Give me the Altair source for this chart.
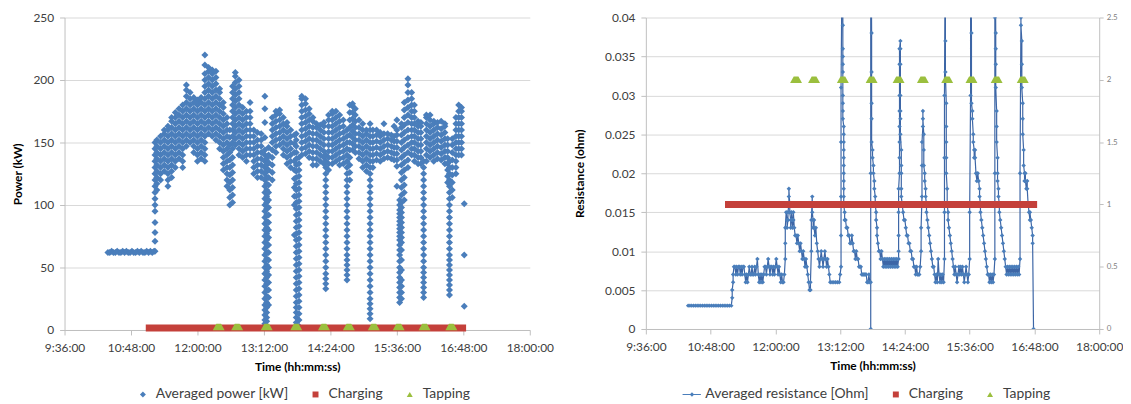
import altair as alt
import pandas as pd

BLUE = "#4a7ebb"
LINE_BLUE = "#3d66a6"
RED = "#c4403a"
GREEN = "#9bbf3e"
GRID = "#d9d9d9"
AXIS = "#bfbfbf"
TEXT = "#404040"

POWER = "Averaged power [kW]"
RESIST = "Averaged resistance [Ohm]"
CHARGING = "Charging"
TAPPING = "Tapping"

tick_hours = [9.6, 10.8, 12.0, 13.2, 14.4, 15.6, 16.8, 18.0]
power_ticks = [0, 50, 100, 150, 200, 250]
resist_ticks = [0, 0.005, 0.01, 0.015, 0.02, 0.025, 0.03, 0.035, 0.04]
flag_ticks = [0, 0.5, 1, 1.5, 2, 2.5]

charging_span = ("11:04", "16:51")
tapping_times = ["12:23", "12:43", "13:15", "13:47", "14:17", "14:44", "15:11", "15:38", "16:06", "16:35"]

# ---- power (kW): flat period before charging
flat_times = ["10:23", "10:25", "10:27", "10:29", "10:31", "10:33", "10:35", "10:37", "10:39",
              "10:41", "10:43", "10:45", "10:47", "10:49", "10:51", "10:53", "10:55", "10:57",
              "10:59", "11:01", "11:03", "11:05", "11:07", "11:09", "11:11", "11:13"]
flat_power = [62, 62, 63, 62, 62, 63, 62, 62, 63, 62, 63, 62, 62, 63, 62, 62, 63, 62, 63, 62,
              62, 63, 62, 63, 62, 63]

# ---- power (kW): readings grouped by clock minute
power_am = [
    ("11:14", [63, 71, 78, 86, 95, 100, 105, 110, 115, 120, 125, 130, 135, 140, 145, 150]),
    ("11:16", [112, 117, 122, 127, 132, 137, 142, 147, 152]),
    ("11:20", [120, 125, 130, 135, 140, 145, 150, 155]),
    ("11:24", [127, 132, 137, 142, 147, 152, 157, 160]),
    ("11:28", [115, 120, 125, 130, 135, 140, 145, 150, 155, 160, 163]),
    ("11:32", [122, 127, 132, 137, 142, 147, 152, 157, 162, 167, 170]),
    ("11:36", [130, 135, 140, 145, 150, 155, 160, 165, 170, 174]),
    ("11:40", [137, 142, 147, 152, 157, 162, 167, 172, 177]),
    ("11:44", [130, 135, 140, 145, 150, 155, 160, 165, 170, 175, 180]),
    ("11:48", [147, 152, 157, 162, 167, 172, 177, 182, 187, 192, 196]),
    ("11:52", [150, 155, 160, 165, 170, 175, 180, 185, 190]),
    ("11:56", [142, 147, 152, 157, 162, 167, 172, 177, 182, 186]),
    ("12:00", [135, 140, 145, 150, 155, 160, 165, 170, 175, 180, 184]),
    ("12:04", [137, 142, 147, 152, 157, 162, 167, 172, 177, 182, 186]),
    ("12:08", [135, 140, 145, 150, 155, 160, 165, 170, 175, 180, 185, 190, 195, 200, 205, 212, 220]),
    ("12:12", [157, 162, 167, 172, 177, 182, 187, 192, 197, 202, 207, 210]),
    ("12:16", [155, 160, 165, 170, 175, 180, 185, 190, 195, 200, 205, 208]),
    ("12:20", [152, 157, 162, 167, 172, 177, 182, 187, 192, 197, 202, 207]),
    ("12:24", [145, 150, 155, 160, 165, 170, 175, 180, 185, 190, 193]),
    ("12:28", [128, 133, 138, 143, 148, 153, 158, 163, 168, 173, 178, 182]),
    ("12:32", [115, 120, 125, 130, 135, 140, 145, 150, 155, 160, 165, 170]),
    ("12:35", [100, 106, 112, 118, 124, 130, 136, 142, 148, 154, 160]),
    ("12:38", [102, 108, 114, 120, 126, 132, 138, 145, 150, 155, 160, 165, 170, 175, 180, 185, 190, 195]),
    ("12:41", [148, 153, 158, 163, 168, 173, 178, 183, 188, 193, 198, 203, 206]),
    ("12:45", [140, 145, 150, 155, 160, 165, 170, 175, 180, 185, 190, 195, 200]),
    ("12:49", [138, 143, 148, 153, 158, 163, 168, 173, 178]),
    ("12:53", [135, 140, 145, 150, 155, 160, 165, 170, 175]),
    ("12:57", [140, 145, 150, 155, 160, 165, 170, 175, 182]),
]
power_midday = [
    ("13:01", [125, 130, 135, 140, 145, 150, 155, 160]),
    ("13:05", [122, 127, 132, 137, 142, 147, 152, 158]),
    ("13:09", [122, 127, 132, 137, 142, 147, 152, 157]),
    ("13:13", [5, 8, 12, 16, 20, 25, 30, 35, 40, 45, 50, 55, 60, 65, 70, 75, 80, 85, 90, 95, 100,
               105, 110, 115, 120, 125, 130, 135, 140, 144, 154, 166, 177, 187]),
    ("13:15", [3, 7, 10, 14, 18, 22, 27, 32, 37, 42, 47, 52, 57, 62, 67, 72, 77, 82, 87, 92, 97,
               102, 107, 112, 117, 122, 127, 132, 137]),
    ("13:17", [20, 26, 32, 38, 44, 50, 56, 62, 68, 74, 80, 86, 92, 98, 104, 110, 116, 122, 128, 134, 140, 146]),
    ("13:21", [120, 126, 132, 138, 144, 150, 155, 160, 165, 170]),
    ("13:25", [142, 147, 152, 157, 162, 167, 172, 175]),
    ("13:29", [148, 153, 158, 163, 168, 173, 176]),
    ("13:33", [140, 145, 150, 155, 160, 165, 170]),
    ("13:37", [133, 138, 143, 148, 153, 158, 163, 166]),
    ("13:41", [130, 135, 140, 145, 150, 155, 160]),
    ("13:45", [76, 100, 107, 114, 121, 128, 135, 142, 149, 156]),
    ("13:47", [2, 6, 10, 14, 18, 22, 27, 32, 37, 42, 47, 52, 57, 62, 67, 72, 77, 82, 87, 92, 97,
               102, 107, 112, 117, 122, 127, 132, 137, 142, 147, 152, 157]),
    ("13:50", [3, 8, 13, 18, 23, 28, 33, 38, 43, 48, 53, 58, 63, 68, 73, 78, 83, 88, 93, 98, 103,
               108, 113, 118, 123, 128, 133, 138]),
    ("13:53", [140, 145, 150, 155, 160, 165, 170, 175, 180, 185, 187]),
    ("13:57", [141, 146, 151, 156, 161, 166, 171, 176, 181, 185]),
    ("14:01", [138, 143, 148, 153, 158, 163, 168, 173, 177]),
    ("14:05", [132, 137, 142, 147, 152, 157, 162, 167, 170]),
    ("14:09", [132, 137, 142, 147, 152, 157, 162, 165]),
    ("14:13", [135, 140, 145, 150, 155, 160, 164]),
    ("14:17", [133, 138, 143, 148, 153, 158, 163, 166]),
    ("14:19", [33, 37, 41, 45, 50, 55, 60, 65, 70, 75, 80, 85, 90, 95, 100, 105, 110, 115, 120, 125, 130, 135, 140]),
    ("14:22", [128, 133, 138, 143, 148, 153, 158, 163, 168, 172]),
    ("14:26", [133, 138, 143, 148, 153, 158, 163, 168, 173, 175]),
    ("14:30", [135, 140, 145, 150, 155, 160, 165, 170, 175]),
    ("14:34", [132, 137, 142, 147, 152, 157, 162, 167, 172]),
    ("14:38", [133, 138, 143, 148, 153, 158, 163, 168]),
    ("14:42", [40, 44, 48, 52, 56, 60, 65, 70, 75, 80, 85, 90, 95, 100, 105, 110, 115, 120, 125,
               130, 135, 140, 145, 150, 155, 160]),
    ("14:45", [120, 126, 132, 138, 144, 150, 156, 162, 168, 174, 180]),
    ("14:48", [144, 149, 154, 159, 164, 169, 174, 179, 181]),
    ("14:51", [142, 147, 152, 157, 162, 167, 172, 177]),
    ("14:55", [137, 142, 147, 152, 157, 162, 168]),
    ("14:59", [130, 135, 140, 145, 150, 155, 160, 165]),
]
power_pm = [
    ("15:03", [127, 132, 137, 142, 147, 152, 157, 160]),
    ("15:07", [9, 13, 17, 21, 25, 30, 35, 40, 45, 50, 55, 60, 65, 70, 75, 80, 85, 90, 95, 100, 105,
               110, 115, 120, 125, 130, 135, 140, 145, 150, 155, 160, 165]),
    ("15:10", [130, 135, 140, 145, 150, 155, 160]),
    ("15:14", [136, 141, 146, 151, 156, 160]),
    ("15:18", [135, 140, 145, 150, 155, 158]),
    ("15:22", [137, 142, 147, 152, 157, 165]),
    ("15:26", [138, 143, 148, 153, 157]),
    ("15:30", [137, 142, 147, 152, 156]),
    ("15:33", [136, 141, 146, 151, 155, 163]),
    ("15:36", [115, 131, 136, 141, 146, 151, 156, 160, 168]),
    ("15:39", [22, 26, 30, 34, 38, 42, 46, 50, 55, 60, 64, 68, 72, 75, 78, 81, 84, 87, 90, 93, 96, 100, 104]),
    ("15:41", [25, 30, 35, 40, 48, 56, 64, 70, 74, 78, 82, 86, 90, 94, 98, 102, 108, 114, 120, 126,
               132, 138, 144, 150, 156, 162, 165]),
    ("15:44", [104, 110, 116, 122, 128, 134, 140, 146, 152, 158, 164, 170, 176, 182]),
    ("15:48", [130, 136, 142, 148, 154, 160, 166, 172, 178, 184, 190, 196, 201]),
    ("15:52", [140, 145, 150, 155, 160, 165, 170, 175, 180, 185, 190]),
    ("15:55", [135, 140, 145, 150, 155, 160, 165, 170, 175, 180]),
    ("15:59", [133, 138, 143, 148, 153, 158, 163, 167]),
    ("16:02", [133, 138, 143, 148, 153, 158, 163, 166]),
    ("16:05", [26, 30, 34, 38, 42, 46, 50, 55, 60, 65, 70, 75, 80, 85, 90, 95, 100, 105, 110, 115,
               120, 125, 130, 135]),
    ("16:08", [135, 140, 145, 150, 155, 160, 165, 170, 172]),
    ("16:12", [138, 143, 148, 153, 158, 163, 168, 172]),
    ("16:16", [135, 140, 145, 150, 155, 160, 165, 167]),
    ("16:20", [137, 142, 147, 152, 157, 162, 166]),
    ("16:24", [136, 141, 146, 151, 156, 161, 167]),
    ("16:28", [133, 138, 143, 148, 153, 158, 163, 165]),
    ("16:31", [118, 123, 128, 133, 138, 143, 148, 153]),
    ("16:33", [28, 32, 36, 40, 44, 48, 52, 56, 60, 65, 70, 75, 80, 85, 90, 95, 100, 105, 110, 115,
               120, 125, 130, 135]),
    ("16:36", [106, 112, 118, 124, 130, 136, 142, 148, 153]),
    ("16:40", [125, 130, 135, 140, 145, 150, 155, 160, 165, 170]),
    ("16:43", [140, 145, 150, 155, 160, 165, 170, 175, 180]),
    ("16:46", [140, 145, 150, 155, 160, 165, 170, 175, 178]),
    ("16:49", [19, 60, 101]),
]

# ---- resistance (milliohm), in time order
res_flat = [("10:23", 3), ("10:25", 3), ("10:27", 3), ("10:29", 3), ("10:31", 3), ("10:33", 3),
            ("10:35", 3), ("10:37", 3), ("10:39", 3), ("10:41", 3), ("10:43", 3), ("10:45", 3),
            ("10:47", 3), ("10:49", 3), ("10:51", 3), ("10:53", 3), ("10:55", 3), ("10:57", 3),
            ("10:59", 3), ("11:01", 3), ("11:03", 3), ("11:05", 3), ("11:07", 3), ("11:09", 3),
            ("11:11", 3), ("11:12", 4), ("11:12", 5), ("11:13", 6), ("11:13", 7), ("11:14", 8)]
res_morning = [("11:15", 8), ("11:16", 7), ("11:17", 8), ("11:18", 7), ("11:19", 8), ("11:20", 8),
               ("11:21", 7), ("11:22", 8), ("11:23", 7), ("11:24", 8), ("11:25", 8), ("11:26", 7),
               ("11:27", 6), ("11:28", 7), ("11:29", 6), ("11:30", 7), ("11:31", 8), ("11:32", 7),
               ("11:33", 7), ("11:34", 8), ("11:35", 7), ("11:36", 7), ("11:37", 8), ("11:38", 7),
               ("11:39", 8), ("11:40", 9), ("11:41", 7), ("11:42", 6), ("11:43", 7), ("11:44", 6),
               ("11:45", 7), ("11:46", 6), ("11:47", 7), ("11:48", 8), ("11:49", 8), ("11:50", 7),
               ("11:51", 8), ("11:52", 9), ("11:53", 8), ("11:54", 7), ("11:55", 8), ("11:56", 8),
               ("11:57", 7), ("11:58", 8), ("11:59", 7), ("12:00", 8), ("12:01", 9), ("12:02", 8),
               ("12:03", 7), ("12:04", 8), ("12:05", 7), ("12:06", 6), ("12:07", 7), ("12:08", 6),
               ("12:09", 6), ("12:10", 7)]
res_noon = [("12:11", 9), ("12:11", 11), ("12:11", 13), ("12:12", 15), ("12:13", 14), ("12:13", 13),
            ("12:14", 14), ("12:14", 15), ("12:15", 16), ("12:15", 17), ("12:15", 18), ("12:16", 16),
            ("12:16", 15), ("12:17", 14), ("12:17", 13), ("12:18", 14), ("12:18", 15), ("12:19", 14),
            ("12:19", 13), ("12:20", 14), ("12:20", 15), ("12:21", 13), ("12:22", 12), ("12:23", 12),
            ("12:24", 11), ("12:25", 12), ("12:26", 11), ("12:27", 10), ("12:28", 11), ("12:29", 10),
            ("12:30", 9), ("12:31", 10), ("12:32", 9), ("12:33", 8), ("12:34", 9), ("12:35", 8),
            ("12:36", 7), ("12:37", 6), ("12:38", 5), ("12:39", 5), ("12:39", 6), ("12:40", 10),
            ("12:40", 14), ("12:41", 17), ("12:41", 15), ("12:42", 14), ("12:42", 13), ("12:43", 14),
            ("12:43", 13), ("12:44", 12), ("12:45", 13), ("12:46", 11), ("12:47", 10), ("12:48", 9),
            ("12:49", 8), ("12:50", 9), ("12:51", 10), ("12:52", 9), ("12:53", 8), ("12:54", 9),
            ("12:55", 10), ("12:56", 9), ("12:57", 8), ("12:58", 9), ("12:59", 8), ("13:00", 7),
            ("13:01", 6), ("13:03", 6), ("13:05", 6), ("13:07", 6), ("13:09", 6), ("13:11", 6),
            ("13:12", 7)]
res_early_pm = [("13:13", 8), ("13:13", 12), ("13:13", 17), ("13:13", 24), ("13:13", 31), ("13:14", 45),
                ("13:14", 60), ("13:15", 48), ("13:15", 39), ("13:15", 36), ("13:15", 35), ("13:15", 34),
                ("13:15", 33), ("13:15", 30), ("13:15", 29), ("13:15", 28), ("13:15", 27), ("13:16", 26),
                ("13:16", 25), ("13:16", 24), ("13:16", 23), ("13:16", 22), ("13:16", 21), ("13:16", 20),
                ("13:16", 19), ("13:16", 18), ("13:16", 17), ("13:16", 16), ("13:17", 15), ("13:17", 14),
                ("13:18", 14), ("13:19", 13), ("13:20", 13), ("13:21", 12), ("13:22", 12), ("13:23", 11),
                ("13:24", 11), ("13:25", 12), ("13:26", 11), ("13:27", 10), ("13:28", 10), ("13:29", 9),
                ("13:30", 10), ("13:31", 9), ("13:32", 9), ("13:33", 8), ("13:34", 8), ("13:35", 8),
                ("13:36", 7), ("13:37", 7), ("13:38", 7), ("13:39", 7), ("13:40", 7), ("13:41", 7),
                ("13:42", 6), ("13:43", 6), ("13:44", 7), ("13:45", 6),
                ("13:46", 6), ("13:46", 20), ("13:46", 45), ("13:46", 60), ("13:46", 0), ("13:46", 60),
                ("13:47", 38), ("13:47", 33), ("13:47", 29), ("13:47", 27), ("13:47", 24), ("13:48", 23),
                ("13:48", 22), ("13:49", 21), ("13:49", 20), ("13:50", 19), ("13:50", 18), ("13:51", 17),
                ("13:51", 16), ("13:52", 15), ("13:52", 14), ("13:53", 13), ("13:53", 12), ("13:54", 11),
                ("13:55", 10), ("13:56", 10), ("13:57", 9), ("13:58", 10), ("13:59", 9), ("14:00", 8),
                ("14:01", 9), ("14:02", 8), ("14:03", 9), ("14:04", 8), ("14:05", 9), ("14:06", 8),
                ("14:07", 9), ("14:08", 8), ("14:09", 9), ("14:10", 8), ("14:11", 9), ("14:12", 8),
                ("14:13", 9), ("14:14", 8), ("14:15", 9), ("14:16", 8), ("14:17", 9)]
res_mid_pm = [("14:17", 10), ("14:17", 12), ("14:17", 15), ("14:17", 18), ("14:18", 20), ("14:18", 22),
              ("14:18", 24), ("14:18", 26), ("14:18", 28), ("14:18", 30), ("14:18", 32), ("14:18", 34),
              ("14:18", 36), ("14:19", 37), ("14:19", 36), ("14:19", 34), ("14:19", 32), ("14:19", 30),
              ("14:19", 28), ("14:19", 27), ("14:19", 25), ("14:20", 23), ("14:20", 21), ("14:20", 20),
              ("14:20", 18), ("14:20", 17), ("14:21", 16), ("14:22", 15), ("14:23", 14), ("14:24", 14),
              ("14:25", 13), ("14:26", 12), ("14:27", 12), ("14:28", 11), ("14:29", 11), ("14:30", 10),
              ("14:31", 10), ("14:32", 9), ("14:33", 9), ("14:34", 8), ("14:35", 8), ("14:36", 7),
              ("14:37", 8), ("14:38", 7), ("14:39", 7), ("14:40", 7),
              ("14:41", 8), ("14:42", 10), ("14:42", 13), ("14:43", 17), ("14:43", 21), ("14:43", 24),
              ("14:44", 26), ("14:44", 28), ("14:44", 27), ("14:45", 25), ("14:45", 23), ("14:45", 21),
              ("14:46", 20), ("14:46", 19), ("14:47", 18), ("14:47", 17), ("14:48", 16), ("14:48", 15),
              ("14:49", 14), ("14:50", 13), ("14:51", 12), ("14:52", 11), ("14:53", 10), ("14:54", 9),
              ("14:55", 8), ("14:56", 8), ("14:57", 7), ("14:58", 6), ("14:59", 7), ("15:00", 6),
              ("15:01", 9), ("15:02", 7), ("15:03", 6), ("15:04", 7), ("15:05", 6), ("15:06", 7),
              ("15:07", 6),
              ("15:08", 9), ("15:08", 15), ("15:08", 22), ("15:08", 30), ("15:09", 55), ("15:09", 37),
              ("15:09", 33), ("15:10", 29), ("15:10", 26), ("15:10", 24), ("15:10", 22), ("15:10", 20),
              ("15:11", 18), ("15:11", 16), ("15:12", 15), ("15:12", 14), ("15:13", 13), ("15:14", 12),
              ("15:15", 11), ("15:16", 10), ("15:17", 9), ("15:18", 8), ("15:19", 7), ("15:20", 8),
              ("15:21", 7), ("15:22", 6), ("15:23", 7), ("15:24", 8), ("15:25", 7), ("15:26", 8),
              ("15:27", 7), ("15:28", 8), ("15:29", 7), ("15:30", 6), ("15:31", 7), ("15:32", 8),
              ("15:33", 7), ("15:34", 6), ("15:35", 7)]
res_late_pm = [("15:36", 9), ("15:36", 15), ("15:37", 30), ("15:37", 55), ("15:38", 38), ("15:38", 29),
               ("15:39", 28), ("15:39", 27), ("15:40", 25), ("15:40", 24), ("15:41", 23), ("15:41", 22),
               ("15:42", 23), ("15:42", 22), ("15:43", 20), ("15:44", 19), ("15:45", 20), ("15:46", 19),
               ("15:47", 18), ("15:47", 17), ("15:48", 16), ("15:48", 15), ("15:49", 14), ("15:50", 13),
               ("15:51", 12), ("15:52", 11), ("15:53", 10), ("15:54", 9), ("15:55", 8), ("15:56", 7),
               ("15:57", 7), ("15:58", 6), ("15:59", 7), ("16:00", 6), ("16:01", 7), ("16:02", 6),
               ("16:03", 7),
               ("16:04", 9), ("16:04", 20), ("16:04", 40), ("16:04", 55), ("16:05", 38), ("16:05", 36),
               ("16:05", 34), ("16:05", 31), ("16:06", 28), ("16:06", 26), ("16:06", 24), ("16:07", 22),
               ("16:07", 20), ("16:07", 19), ("16:08", 18), ("16:08", 17), ("16:09", 16), ("16:09", 15),
               ("16:10", 14), ("16:11", 13), ("16:12", 12), ("16:13", 11), ("16:14", 10), ("16:15", 9),
               ("16:16", 8), ("16:17", 7), ("16:18", 8), ("16:19", 7), ("16:20", 8), ("16:21", 7),
               ("16:22", 8), ("16:23", 7), ("16:24", 8), ("16:25", 7), ("16:26", 8), ("16:27", 7),
               ("16:28", 8), ("16:29", 7), ("16:30", 8), ("16:31", 7),
               ("16:32", 9), ("16:32", 20), ("16:33", 40), ("16:33", 55), ("16:33", 39), ("16:34", 37),
               ("16:34", 34), ("16:34", 31), ("16:35", 29), ("16:35", 27), ("16:35", 25), ("16:36", 23),
               ("16:36", 21), ("16:37", 20), ("16:37", 19), ("16:38", 20), ("16:38", 19), ("16:39", 18),
               ("16:40", 19), ("16:40", 18), ("16:41", 16), ("16:42", 15), ("16:43", 14), ("16:43", 15),
               ("16:44", 14), ("16:45", 13), ("16:46", 12), ("16:46", 11), ("16:47", 0)]


def to_hours(s):
    h, m = s.split(":")
    return int(h) + int(m) / 60.0


# ---------- data frames ----------
power_rows = [{"t": to_hours(t), "v": v, "series": POWER} for t, v in zip(flat_times, flat_power)]
for block in (power_am, power_midday, power_pm):
    for t, vals in block:
        for v in vals:
            power_rows.append({"t": to_hours(t), "v": v, "series": POWER})
power_df = pd.DataFrame(power_rows)

res_rows = []
for block in (res_flat, res_morning, res_noon, res_early_pm, res_mid_pm, res_late_pm):
    for t, m in block:
        res_rows.append({"t": to_hours(t), "r": m / 1000.0, "i": len(res_rows), "series": RESIST})
res_df = pd.DataFrame(res_rows)

charge_left_df = pd.DataFrame({"t": [to_hours(charging_span[0])], "t2": [to_hours(charging_span[1])], "level": [0]})
charge_right_df = pd.DataFrame({"t": [to_hours(charging_span[0])], "t2": [to_hours(charging_span[1])], "level": [1]})
tap_left_df = pd.DataFrame({"t": [to_hours(s) for s in tapping_times], "level": 0, "series": TAPPING})
tap_right_df = pd.DataFrame({"t": [to_hours(s) for s in tapping_times], "level": 2, "series": TAPPING})

# ---------- shared styling ----------
LABEL_EXPR = ("floor(datum.value) + ':' + (round((datum.value % 1) * 60) < 10 ? '0' : '') + "
              "round((datum.value % 1) * 60) + ':00'")
TRAP = "M-1,0.55L-0.4,-0.55L0.4,-0.55L1,0.55Z"
LINE_SYMBOL = "M-3.33,-0.2H2.83V0.2H-3.33Z M-0.17,-0.75L0.58,0L-0.17,0.75L-0.92,0Z"

x_axis = alt.Axis(values=tick_hours, labelExpr=LABEL_EXPR, grid=False, domainColor=AXIS,
                  tickColor=AXIS, tickSize=5, labelFlush=False, labelOverlap=False, labelPadding=8,
                  labelFontSize=12, labelColor=TEXT, titleFontSize=12, titleFontWeight="bold",
                  titleColor="#000000", titlePadding=8)
x_scale = alt.Scale(domain=[9.6, 18], nice=False, zero=False)


def xenc(field="t"):
    return alt.X(f"{field}:Q", scale=x_scale, axis=x_axis, title="Time (hh:mm:ss)")


def yaxis(values, fmt, pad):
    return alt.Axis(values=values, format=fmt, grid=True, gridColor=GRID, domainColor=AXIS,
                    tickColor=AXIS, tickSize=5, labelPadding=6, labelFontSize=12, labelColor=TEXT,
                    titleFontSize=12, titleFontWeight="bold", titleColor="#000000", titlePadding=pad)


def legend(x, y, first_shape):
    expr = ("datum.label === 'Charging' ? 'square' : (datum.label === 'Tapping' ? 'triangle-up' : '"
            + first_shape + "')")
    return alt.Legend(orient="none", legendX=x, legendY=y, direction="horizontal", columns=3,
                      title=None, symbolType={"expr": expr}, symbolSize=36, symbolStrokeWidth=0,
                      labelFontSize=14, labelColor=TEXT, labelOffset=6, columnPadding=20,
                      labelLimit=300, padding=0)


# ---------- left panel ----------
left_names = [POWER, CHARGING, TAPPING]
left_color = alt.Scale(domain=left_names, range=[BLUE, RED, GREEN])
left_legend = legend(72, 373, "diamond")
py_scale = alt.Scale(domain=[0, 250], nice=False)
py_axis = yaxis(power_ticks, "d", 9)

power_pts = alt.Chart(power_df).mark_point(filled=True, shape="diamond", size=50, opacity=1, clip=True).encode(
    x=xenc(),
    y=alt.Y("v:Q", scale=py_scale, axis=py_axis, title="Power (kW)"),
    color=alt.Color("series:N", scale=left_color, legend=left_legend),
)
charge_left = alt.Chart(charge_left_df).mark_rule(color=RED, strokeWidth=7, yOffset=-2).encode(
    x=xenc(), x2="t2:Q",
    y=alt.Y("level:Q", scale=py_scale, axis=py_axis, title="Power (kW)"),
)
tap_left = alt.Chart(tap_left_df).mark_point(filled=True, shape=TRAP, size=144, opacity=1, yOffset=-3).encode(
    x=xenc(),
    y=alt.Y("level:Q", scale=py_scale, axis=py_axis, title="Power (kW)"),
    color=alt.Color("series:N", scale=left_color, legend=left_legend),
)
left = alt.layer(power_pts, charge_left, tap_left).properties(width=469, height=315)

# ---------- right panel ----------
right_names = [RESIST, CHARGING, TAPPING]
right_color = alt.Scale(domain=right_names, range=[BLUE, RED, GREEN])
right_legend = legend(40, 373, LINE_SYMBOL)
ry_scale = alt.Scale(domain=[0, 0.04], nice=False)
ry_axis = yaxis(resist_ticks, ".3~f", 18)
ry = alt.Y("r:Q", scale=ry_scale, axis=ry_axis, title="Resistance (ohm)")

sec_axis = alt.Axis(orient="right", values=flag_ticks, format=".1~f", grid=False, labelFontSize=8,
                    labelColor="#7f7f7f", tickSize=4, tickColor=AXIS, domainColor=AXIS, labelPadding=3)
sec_y = alt.Y("level:Q", scale=alt.Scale(domain=[0, 2.5], nice=False), axis=sec_axis, title=None)

res_line = alt.Chart(res_df).mark_line(color=LINE_BLUE, strokeWidth=1.2, clip=True).encode(
    x=xenc(), y=ry, order="i:Q")
res_pts = alt.Chart(res_df).mark_point(filled=True, shape="diamond", size=20, opacity=1, clip=True).encode(
    x=xenc(), y=ry, color=alt.Color("series:N", scale=right_color, legend=right_legend))
charge_right = alt.Chart(charge_right_df).mark_rule(color=RED, strokeWidth=7).encode(
    x=xenc(), x2="t2:Q", y=sec_y)
tap_right = alt.Chart(tap_right_df).mark_point(filled=True, shape=TRAP, size=144, opacity=1).encode(
    x=xenc(), y=sec_y, color=alt.Color("series:N", scale=right_color, legend=right_legend))

right = alt.layer(
    alt.layer(res_line, res_pts),
    alt.layer(charge_right, tap_right),
).resolve_scale(y="independent").properties(width=457, height=314)

chart = alt.hconcat(left, right, spacing=20).resolve_scale(
    x="independent", y="independent", color="independent"
).resolve_legend(color="independent").properties(
    padding={"left": 3, "top": 2, "right": 0, "bottom": 0}
).configure(font="Lato").configure_view(strokeWidth=0)

chart.save("out.html", embed_options={"renderer": "svg", "actions": False})
